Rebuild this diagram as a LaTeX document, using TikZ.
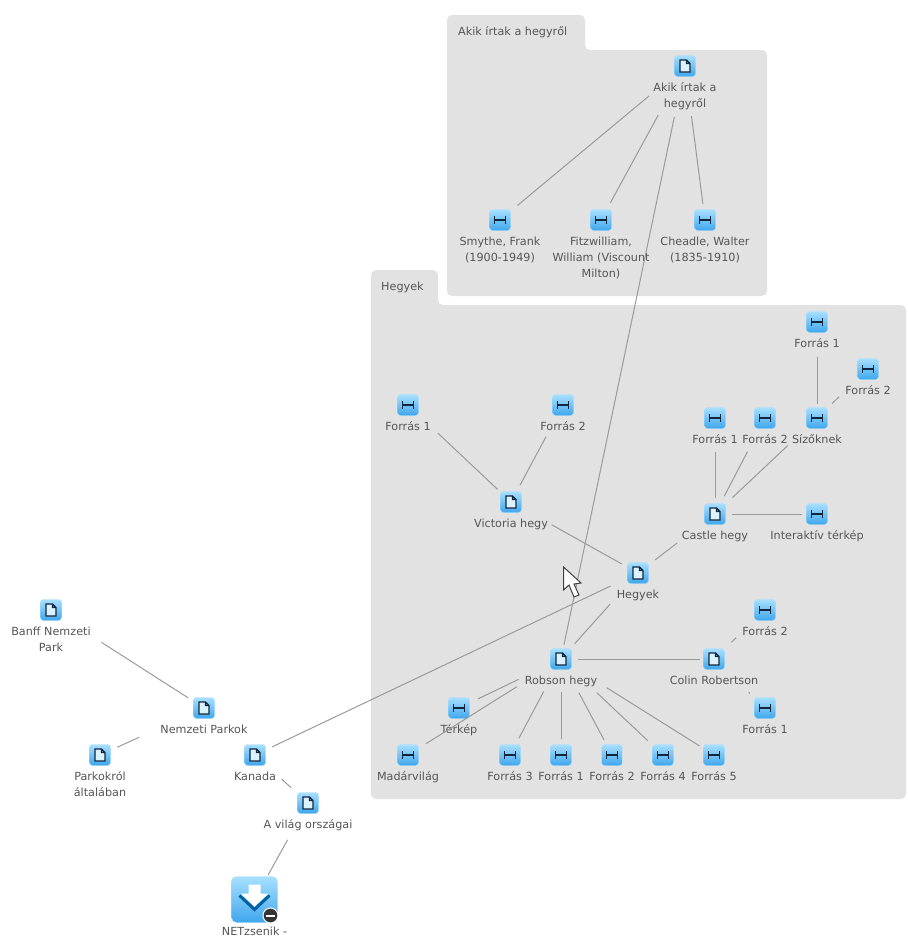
\documentclass[tikz,border=0pt]{standalone}
\usepackage{fontspec}
\setmainfont{DejaVu Sans}
\definecolor{panelgray}{HTML}{E2E2E2}
\definecolor{linegray}{HTML}{9A9A9A}
\definecolor{textgray}{HTML}{555555}
\definecolor{iconlight}{HTML}{A8E0FF}
\definecolor{iconblue}{HTML}{3FA6EC}
\definecolor{glyphdark}{HTML}{10263C}
\tikzset{
	lbl/.style={font=\fontsize{11.2}{16}\selectfont,text=textgray,align=center,inner sep=0pt,label distance=6pt},
	icon/.style={minimum size=21pt,inner sep=0pt,rounded corners=3pt,top color=iconlight,bottom color=iconblue,draw=iconlight,line width=0.4pt},
	hnode/.style={icon,path picture={
		\draw[shift={(path picture bounding box.center)},sharp corners,glyphdark,line width=1.6pt]
			(-5.5,-4) -- (-5.5,4) (5.5,-4) -- (5.5,4) (-5.5,0) -- (5.5,0);}},
	docnode/.style={icon,path picture={
		\draw[shift={(path picture bounding box.center)},sharp corners,glyphdark,line width=1.3pt,fill=iconlight!40]
			(-5,-6) -- (1.5,-6) -- (5,-2.5) -- (5,6) -- (-5,6) -- cycle (1.5,-6) -- (1.5,-2.5) -- (5,-2.5);}},
	link/.style={draw=linegray,line width=1pt},
	panel/.style={fill=panelgray,rounded corners=5pt},
	paneltitle/.style={font=\fontsize{11.2}{14}\selectfont,text=textgray,anchor=west,inner sep=0pt}
}
\begin{document}
\begin{tikzpicture}[x=1pt,y=-1pt]
\useasboundingbox (0,0) rectangle (908,943);
% panels
\path[panel] (447,296) -- (447,15) -- (585,15) -- (585,50) -- (767,50) -- (767,296) -- cycle;
\path[panel] (371,799) -- (371,270) -- (438,270) -- (438,305) -- (906,305) -- (906,799) -- cycle;
\node[paneltitle] (titleakik) at (458,32) {Akik írtak a hegyről};
\node[paneltitle] (titlehegyek) at (381,287) {Hegyek};
% first panel
\node[docnode,label={[lbl]below:Akik írtak a\\hegyről}] (akik) at (685,66) {};
\node[hnode,label={[lbl]below:Smythe, Frank\\(1900-1949)}] (smythe) at (500,220) {};
\node[hnode,label={[lbl]below:Fitzwilliam,\\William (Viscount\\Milton)}] (fitz) at (601,220) {};
\node[hnode,label={[lbl]below:Cheadle, Walter\\(1835-1910)}] (cheadle) at (705,220) {};
% second panel
\node[hnode,label={[lbl]below:Forrás 1}] (szf1) at (817,322) {};
\node[hnode,label={[lbl]below:Forrás 2}] (szf2) at (868,369) {};
\node[hnode,label={[lbl]below:Sízőknek}] (sizo) at (817,418) {};
\node[hnode,label={[lbl]below:Forrás 1}] (caf1) at (715,418) {};
\node[hnode,label={[lbl]below:Forrás 2}] (caf2) at (765,418) {};
\node[docnode,label={[lbl]below:Castle hegy}] (castle) at (715,514) {};
\node[hnode,label={[lbl]below:Interaktív térkép}] (inter) at (817,514) {};
\node[hnode,label={[lbl]below:Forrás 1}] (vif1) at (408,405) {};
\node[hnode,label={[lbl]below:Forrás 2}] (vif2) at (563,405) {};
\node[docnode,label={[lbl]below:Victoria hegy}] (victoria) at (511,502) {};
\node[docnode,label={[lbl]below:Hegyek}] (hegyek) at (638,573) {};
\node[hnode,label={[lbl]below:Forrás 2}] (cof2) at (765,610) {};
\node[docnode,label={[lbl]below:Robson hegy}] (robson) at (561,659) {};
\node[docnode,label={[lbl]below:Colin Robertson}] (colin) at (714,659) {};
\node[hnode,label={[lbl]below:Térkép}] (terkep) at (459,708) {};
\node[hnode,label={[lbl]below:Forrás 1}] (cof1) at (765,708) {};
\node[hnode,label={[lbl]below:Madárvilág}] (madar) at (408,755) {};
\node[hnode,label={[lbl]below:Forrás 3}] (rof3) at (510,755) {};
\node[hnode,label={[lbl]below:Forrás 1}] (rof1) at (561,755) {};
\node[hnode,label={[lbl]below:Forrás 2}] (rof2) at (612,755) {};
\node[hnode,label={[lbl]below:Forrás 4}] (rof4) at (663,755) {};
\node[hnode,label={[lbl]below:Forrás 5}] (rof5) at (714,755) {};
% outside the panels
\node[docnode,label={[lbl]below:Banff Nemzeti\\Park}] (banff) at (51,610) {};
\node[docnode,label={[lbl]below:Nemzeti Parkok}] (nemzeti) at (204,708) {};
\node[docnode,label={[lbl]below:Parkokról\\általában}] (parkok) at (100,755) {};
\node[docnode,label={[lbl]below:Kanada}] (kanada) at (255,755) {};
\node[docnode,label={[lbl]below:A világ országai}] (vilag) at (308,803) {};
\node[icon,minimum size=46pt,rounded corners=5pt,label={[lbl,label distance=4pt]below:NETzsenik -}] (netz) at (254.5,899.5) {};
\draw[line width=3pt,draw=black!20!blue!45!cyan!70!black] ([shift={(-15,-4)}]netz.center) -- ([shift={(0,10)}]netz.center) -- ([shift={(15,-4)}]netz.center);
\path[fill=white] ([shift={(-6,-15)}]netz.center) -- ([shift={(6,-15)}]netz.center) -- ([shift={(6,-6)}]netz.center) -- ([shift={(14,-6)}]netz.center) -- ([shift={(0,7)}]netz.center) -- ([shift={(-14,-6)}]netz.center) -- ([shift={(-6,-6)}]netz.center) -- cycle;
\node[circle,fill=textgray!60!black,draw=white,line width=1pt,minimum size=15pt,inner sep=0pt] (netzminus) at (270.5,915.5) {};
\node[fill=white,minimum width=9pt,minimum height=2pt,inner sep=0pt] (netzbar) at (netzminus) {};
% connectors
\draw[link,shorten <=46.8pt,shorten >=22.8pt] (akik.center)--(smythe.center);
\draw[link,shorten <=56pt,shorten >=19.4pt] (akik.center)--(fitz.center);
\draw[link,shorten <=50.5pt,shorten >=16pt] (akik.center)--(cheadle.center);
\draw[link,shorten <=52pt,shorten >=14.6pt] (akik.center)--(robson.center);
\draw[link,shorten <=18.4pt,shorten >=41pt] (victoria.center)--(vif1.center);
\draw[link,shorten <=19pt,shorten >=36pt] (victoria.center)--(vif2.center);
\draw[link,shorten <=18.6pt,shorten >=46.5pt] (hegyek.center)--(victoria.center);
\draw[link,shorten <=21.6pt,shorten >=47.6pt] (hegyek.center)--(castle.center);
\draw[link,shorten <=41.9pt,shorten >=20.5pt] (hegyek.center)--(robson.center);
\draw[link,shorten <=30.4pt,shorten >=18.8pt] (hegyek.center)--(kanada.center);
\draw[link,shorten <=16pt,shorten >=34pt] (castle.center)--(caf1.center);
\draw[link,shorten <=20pt,shorten >=38pt] (castle.center)--(caf2.center);
\draw[link,shorten <=24pt,shorten >=40pt] (castle.center)--(sizo.center);
\draw[link,shorten <=17pt,shorten >=15pt] (castle.center)--(inter.center);
\draw[link,shorten <=14pt,shorten >=35pt] (sizo.center)--(szf1.center);
\draw[link,shorten <=21pt,shorten >=40pt] (sizo.center)--(szf2.center);
\draw[link,shorten <=17pt,shorten >=14pt] (robson.center)--(colin.center);
\draw[link,shorten <=24pt,shorten >=40pt] (colin.center)--(cof2.center);
\draw[link,shorten <=48pt,shorten >=21pt] (colin.center)--(cof1.center);
\draw[link,shorten <=47pt,shorten >=21pt] (robson.center)--(terkep.center);
\draw[link,shorten <=52pt,shorten >=21pt] (robson.center)--(madar.center);
\draw[link,shorten <=37pt,shorten >=19pt] (robson.center)--(rof3.center);
\draw[link,shorten <=33pt,shorten >=16pt] (robson.center)--(rof1.center);
\draw[link,shorten <=38pt,shorten >=17pt] (robson.center)--(rof2.center);
\draw[link,shorten <=49pt,shorten >=21pt] (robson.center)--(rof4.center);
\draw[link,shorten <=54pt,shorten >=17pt] (robson.center)--(rof5.center);
\draw[link,shorten <=60pt,shorten >=19pt] (banff.center)--(nemzeti.center);
\draw[link,shorten <=71pt,shorten >=19pt] (nemzeti.center)--(parkok.center);
\draw[link,shorten <=36pt,shorten >=23pt] (kanada.center)--(vilag.center);
\draw[link,shorten <=42pt,shorten >=28pt] (vilag.center)--(netz.center);
% mouse pointer
\draw[fill=white,draw=black!75,line width=1pt] (563.5,567) -- (563.5,590) -- (569,585) -- (574,597) -- (579,595) -- (574,584) -- (581,583) -- cycle;
\end{tikzpicture}
\end{document}
